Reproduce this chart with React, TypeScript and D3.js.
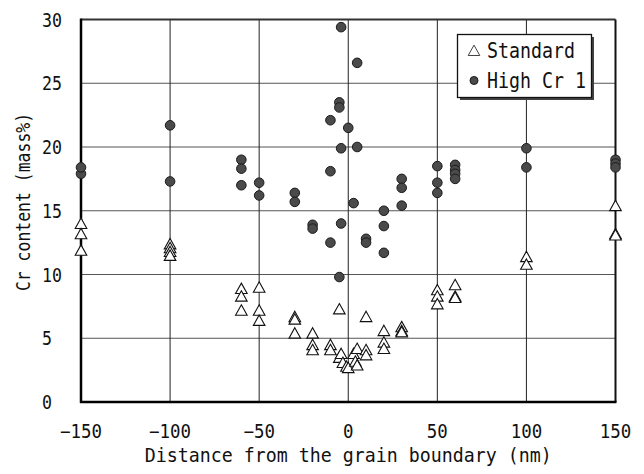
import React from "react";
import * as d3 from "d3";

const xTicks = [-150, -100, -50, 0, 50, 100, 150];
const yTicks = [0, 5, 10, 15, 20, 25, 30];

const standardDistance = [
  -150, -150, -150, -100, -100, -100, -100, -60, -60, -60, -50, -50, -50,
  -30, -30, -30, -20, -20, -20, -10, -10, -5, -5, -4, -3, -1, 0, 3, 4, 5, 5,
  10, 10, 10, 20, 20, 20, 30, 30, 30, 50, 50, 50, 60, 60, 60, 100, 100, 150,
  150, 150,
];
const standardCr = [
  14.0, 13.2, 11.9, 12.4, 12.1, 11.8, 11.5, 8.9, 8.3, 7.2, 9.0, 7.2, 6.4,
  6.7, 6.5, 5.4, 5.4, 4.5, 4.1, 4.5, 4.1, 7.3, 3.5, 3.8, 3.1, 2.8, 2.7, 3.8,
  3.2, 4.2, 2.9, 6.7, 4.1, 3.7, 5.6, 4.7, 4.2, 5.9, 5.6, 5.5, 8.8, 8.3, 7.7,
  9.2, 8.3, 8.2, 11.4, 10.8, 15.4, 13.2, 13.1,
];

const highCrDistance = [
  -150, -150, -100, -100, -60, -60, -60, -50, -50, -30, -30, -20, -20, -10,
  -10, -10, -5, -5, -5, -4, -4, -4, 0, 3, 5, 5, 10, 10, 20, 20, 20, 30, 30,
  30, 50, 50, 50, 60, 60, 60, 60, 100, 100, 150, 150, 150,
];
const highCrCr = [
  17.9, 18.4, 21.7, 17.3, 19.0, 18.3, 17.0, 17.2, 16.2, 16.4, 15.7, 13.9,
  13.6, 22.1, 18.1, 12.5, 23.5, 23.1, 9.8, 29.4, 19.9, 14.0, 21.5, 15.6, 26.6,
  20.0, 12.8, 12.5, 15.0, 13.8, 11.7, 17.5, 16.8, 15.4, 18.5, 17.2, 16.4,
  18.6, 18.2, 17.9, 17.5, 19.9, 18.4, 19.0, 18.7, 18.4,
];

const legendLabels = ["Standard", "High Cr 1"];
const xTitle = "Distance from the grain boundary (nm)";
const yTitle = "Cr content (mass%)";

const FONT = "'DejaVu Sans Mono', 'Liberation Mono', monospace";

function Txt(props: {
  x: number;
  y: number;
  text: string;
  size: number;
  adv: number;
  anchor?: string;
  transform?: string;
}) {
  const { x, y, text, size, adv, anchor = "start", transform } = props;
  return (
    <text
      x={x}
      y={y}
      fontFamily={FONT}
      fontSize={size}
      textAnchor={anchor}
      dominantBaseline="central"
      textLength={text.length * adv}
      lengthAdjust="spacingAndGlyphs"
      transform={transform}
      fill="#111"
    >
      {text}
    </text>
  );
}

export default function App() {
  const W = 644;
  const H = 474;
  const x = d3.scaleLinear().domain([-150, 150]).range([81, 615.5]);
  const y = d3.scaleLinear().domain([0, 30]).range([402, 19.5]);
  const [x0, x1] = x.range();
  const [y0, y1] = y.range();
  const tri = "M0,-5.4L5.8,5L-5.8,5Z";

  return (
    <svg
      width={W}
      height={H}
      viewBox={`0 0 ${W} ${H}`}
      style={{ position: "absolute", left: 0, top: 0, background: "#fff" }}
    >
      <rect x={0} y={0} width={W} height={H} fill="#fff" />
      {/* grid */}
      {yTicks.slice(1, -1).map((t) => (
        <line key={"gy" + t} x1={x0} x2={x1} y1={y(t)} y2={y(t)} stroke="#555" strokeWidth={1} />
      ))}
      {xTicks.slice(1, -1).map((t) => (
        <line key={"gx" + t} x1={x(t)} x2={x(t)} y1={y0} y2={y1} stroke="#222" strokeWidth={1} />
      ))}
      {/* frame */}
      <line x1={x0} x2={x1} y1={y1} y2={y1} stroke="#333" strokeWidth={2} />
      <line x1={x1} x2={x1} y1={y1} y2={y0} stroke="#111" strokeWidth={2} />
      <line x1={x0} x2={x0} y1={y1 - 1} y2={y0 + 1} stroke="#000" strokeWidth={2.5} />
      <line x1={x0 - 1} x2={x1 + 1} y1={y0} y2={y0} stroke="#000" strokeWidth={2.5} />

      {/* tick labels */}
      {yTicks.map((t) => (
        <Txt key={"yl" + t} x={42} y={y(t)} text={String(t)} size={19} adv={10} />
      ))}
      {xTicks.map((t) => {
        const s = t < 0 ? "\u2212" + String(-t) : String(t);
        return <Txt key={"xl" + t} x={x(t)} y={431} text={s} size={19} adv={10.5} anchor="middle" />;
      })}

      {/* titles */}
      <Txt x={(x0 + x1) / 2} y={455} text={xTitle} size={19} adv={11} anchor="middle" />
      <Txt
        x={0}
        y={0}
        text={yTitle}
        size={19}
        adv={9.9}
        anchor="middle"
        transform={`translate(23,202) rotate(-90)`}
      />

      {/* standard triangles */}
      {standardDistance.map((d, i) => (
        <path
          key={"s" + i}
          d={tri}
          transform={`translate(${x(d)},${y(standardCr[i])})`}
          fill="#fff"
          stroke="#111"
          strokeWidth={1.1}
        />
      ))}
      {/* high Cr circles */}
      {highCrDistance.map((d, i) => (
        <circle
          key={"h" + i}
          cx={x(d)}
          cy={y(highCrCr[i])}
          r={4.8}
          fill="#4a4a4a"
          stroke="#1a1a1a"
          strokeWidth={1}
        />
      ))}

      {/* legend */}
      <rect x={460} y={37} width={134} height={63} fill="#444" />
      <rect x={457.5} y={34.5} width={134} height={63} fill="#fff" stroke="#111" strokeWidth={1.3} />
      <path d={tri} transform="translate(474,50.5)" fill="#fff" stroke="#444" strokeWidth={1} />
      <Txt x={487} y={51} text={legendLabels[0]} size={21} adv={11} />
      <circle cx={474} cy={80.5} r={4} fill="#4a4a4a" stroke="#1a1a1a" strokeWidth={1} />
      <Txt x={487} y={80.5} text={legendLabels[1]} size={21} adv={11} />
    </svg>
  );
}
